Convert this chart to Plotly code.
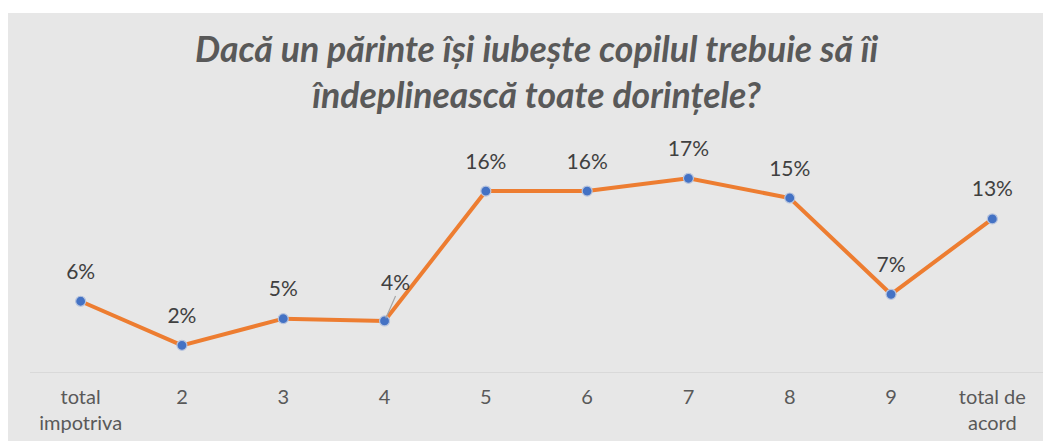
import plotly.graph_objects as go

categories = ["total<br>impotriva", "2", "3", "4", "5", "6", "7", "8", "9", "total de<br>acord"]
values = [0.061, 0.023, 0.046, 0.044, 0.156, 0.156, 0.167, 0.150, 0.067, 0.132]
title_text = "Dacă un părinte își iubește copilul trebuie să îi<br>îndeplinească toate dorințele?"

labels = [f"{round(v*100)}%" for v in values]
# the label of category "4" is moved and drawn with a leader line
main_text = [("" if c == "4" else t) for c, t in zip(categories, labels)]
xs = list(range(len(categories)))

W, H = 1051, 441
# page body adds an 8px offset; coordinates below are in figure space
L, R, T, B = 21.5, 16, 132, 77
pw, ph = W - L - R, H - T - B

fig = go.Figure()
fig.add_trace(go.Scatter(
    x=xs, y=values, mode="lines+markers",
    line=dict(color="#ED7D31", width=4),
    marker=dict(color="#4472C4", size=10, line=dict(color="#B7C4DE", width=1.2)),
    cliponaxis=False, hoverinfo="skip",
))
# data labels (invisible larger markers give the label offset)
fig.add_trace(go.Scatter(
    x=xs, y=values, mode="markers+text",
    text=main_text, textposition="top center",
    textfont=dict(family="Lato", size=21, color="#404040"),
    marker=dict(color="rgba(0,0,0,0)", size=26),
    cliponaxis=False, hoverinfo="skip",
))

i4 = categories.index("4")
fig.add_annotation(
    x=i4, y=values[i4], xref="x", yref="y", text=labels[i4],
    showarrow=True, arrowhead=0, arrowwidth=1.2, arrowcolor="#A6A6A6",
    ax=11, ay=-25, xanchor="center", yanchor="bottom", standoff=3,
    font=dict(family="Lato", size=21, color="#404040"),
)

fig.add_annotation(
    text=title_text, xref="paper", yref="paper", x=0.5, y=1 + (T - 17) / ph,
    xanchor="center", yanchor="top", showarrow=False, align="center",
    font=dict(family="Lato", size=35.6, color="#595959", weight="bold", style="italic"),
)

fig.add_shape(type="rect", xref="paper", yref="paper", layer="below",
              x0=-(L + 2) / pw, x1=1 + (R + 5) / pw,
              y0=-(B + 5) / ph, y1=1 + (T - 5) / ph,
              fillcolor="#E7E7E7", line=dict(width=0))

fig.update_layout(
    width=W, height=H,
    margin=dict(l=L, r=R, t=T, b=B, pad=0, autoexpand=False),
    paper_bgcolor="white", plot_bgcolor="rgba(0,0,0,0)",
    showlegend=False,
    xaxis=dict(tickmode="array", tickvals=xs, ticktext=categories,
               range=[-0.5, len(categories) - 0.5],
               showgrid=False, zeroline=False, showline=True, linecolor="#D9D9D9", linewidth=1,
               ticks="outside", ticklen=7, tickcolor="rgba(0,0,0,0)", automargin=False,
               tickfont=dict(family="Lato", size=20, color="#595959"), fixedrange=True),
    yaxis=dict(range=[0, 0.2], visible=False, fixedrange=True, automargin=False),
)

fig.write_html("out.html")
